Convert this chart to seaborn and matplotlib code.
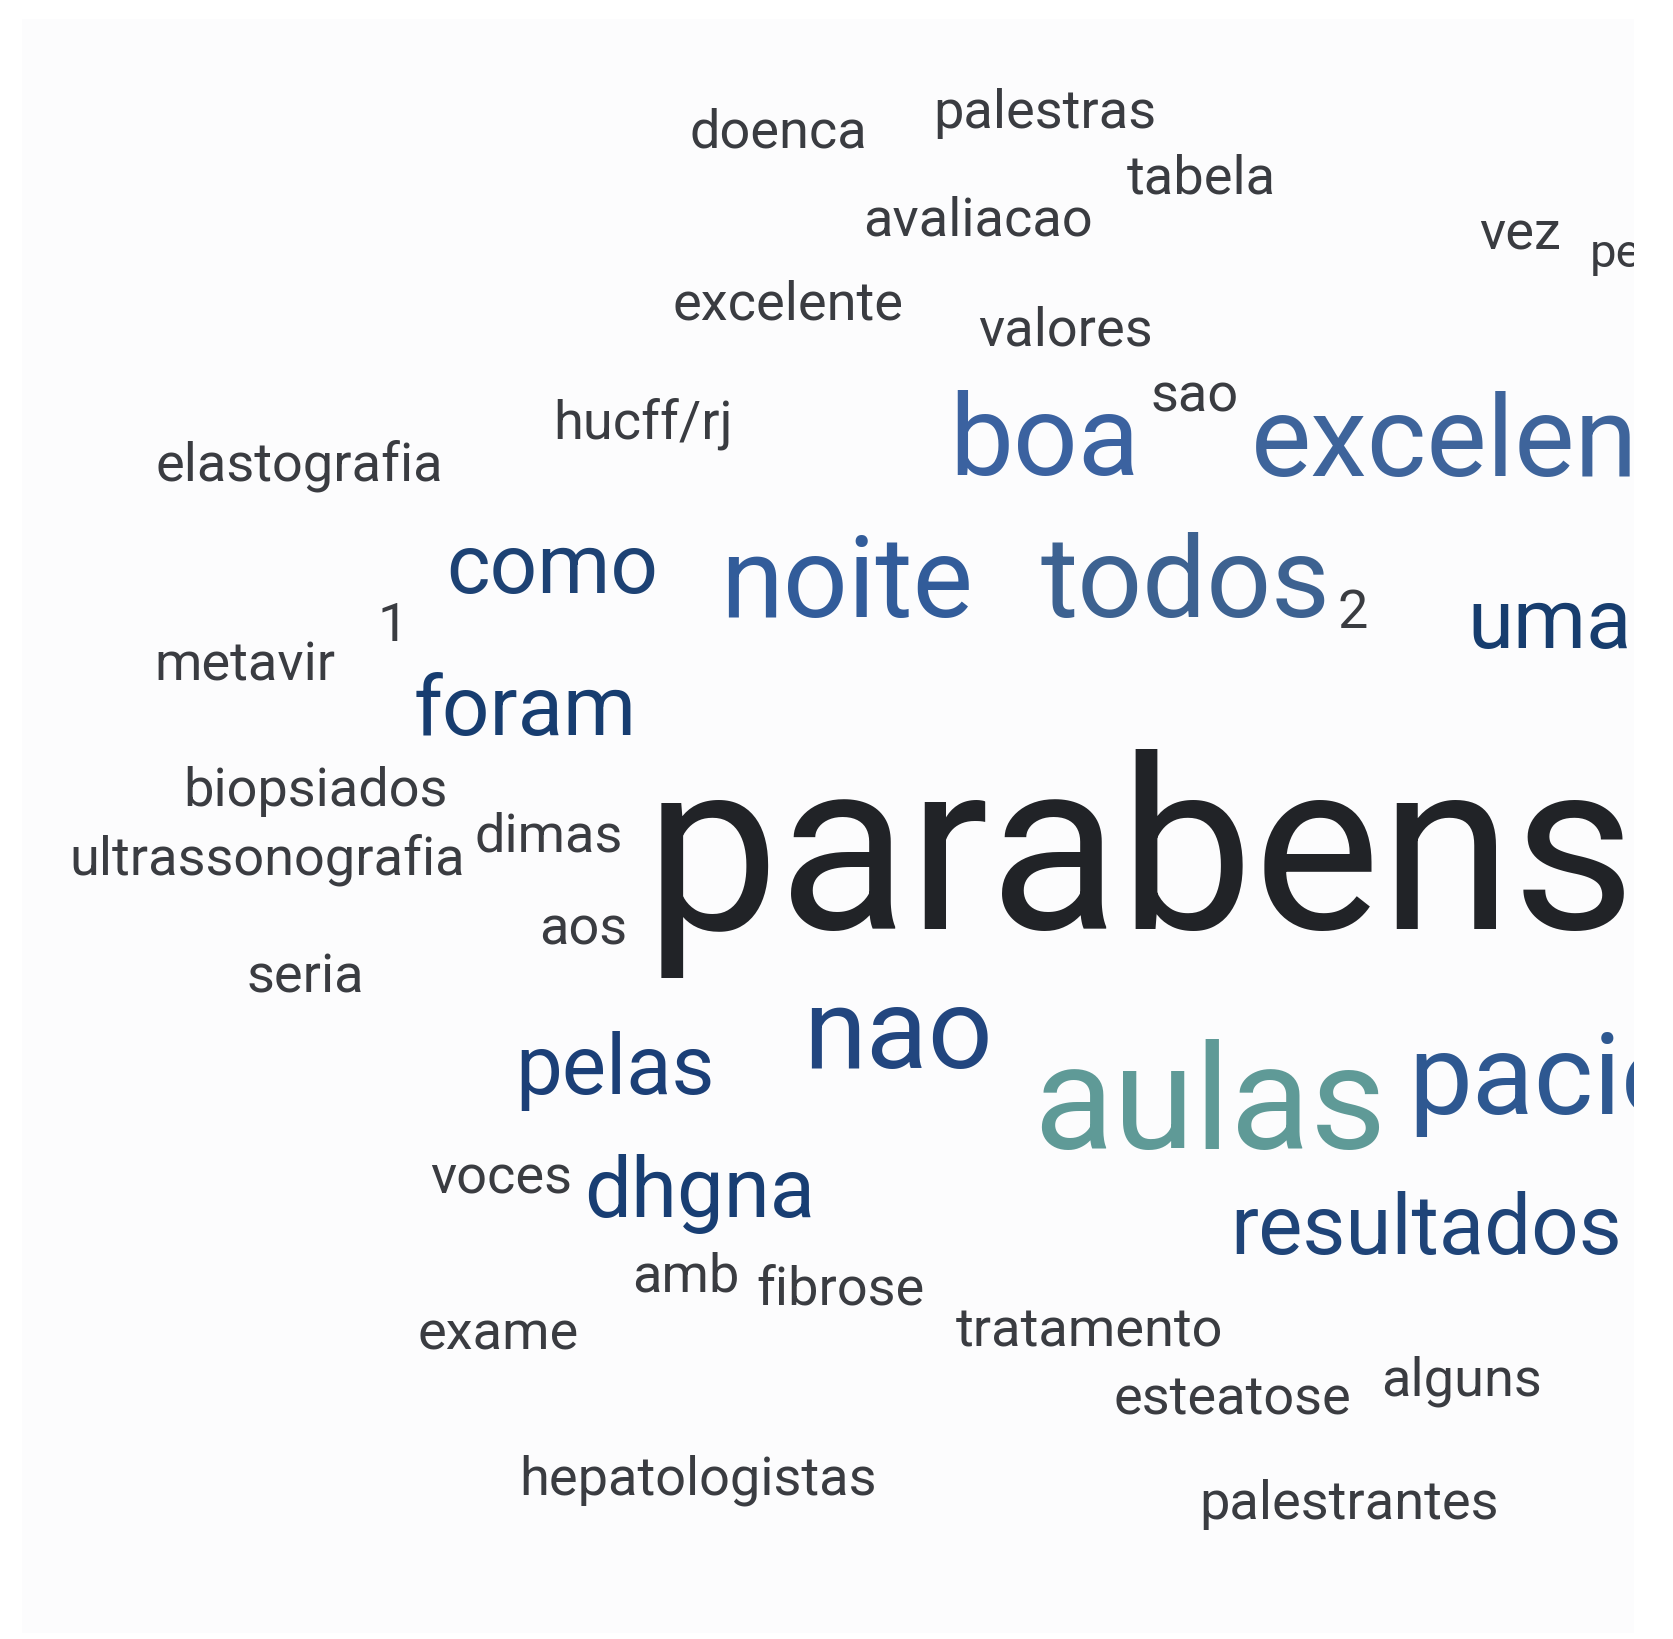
import matplotlib
matplotlib.use("Agg")
import matplotlib.pyplot as plt
import seaborn as sns

# word cloud data: words and how often they appear
words = ["parabens", "aulas", "boa", "excelentes", "noite", "todos", "nao", "pacientes",
         "como", "uma", "foram", "pelas", "dhgna", "resultados",
         "doenca", "palestras", "tabela", "avaliacao", "vez", "excelente", "valores",
         "sao", "hucff/rj", "elastografia", "2", "1", "metavir", "biopsiados", "dimas",
         "ultrassonografia", "aos", "seria", "voces", "amb", "fibrose", "exame",
         "tratamento", "esteatose", "alguns", "hepatologistas", "palestrantes", "pelo"]
counts = [9, 5, 4, 4, 4, 4, 4, 4,
          3, 3, 3, 3, 3, 3,
          2, 2, 2, 2, 2, 2, 2,
          2, 2, 2, 2, 2, 2, 2, 2,
          2, 2, 2, 2, 2, 2, 2,
          2, 2, 2, 2, 2, 1]

# --- styling / layout (pixel coords of the 1674x1640 canvas, left + baseline) ---
size_for = {1: 34, 2: 39, 3: 60, 4: 82, 5: 106, 9: 172}
layout = {
    "parabens": (645, 929), "aulas": (1033, 1149), "boa": (949, 475),
    "excelentes": (1251, 476), "noite": (720, 617), "todos": (1041, 617),
    "nao": (803, 1068), "pacientes": (1408, 1114),
    "como": (446, 593), "uma": (1467, 648), "foram": (414, 735),
    "pelas": (515, 1094), "dhgna": (584, 1217), "resultados": (1230, 1254),
    "doenca": (690, 147), "palestras": (933, 128), "tabela": (1127, 194),
    "avaliacao": (863, 235), "vez": (1479, 250), "excelente": (673, 320),
    "valores": (978, 345), "sao": (1151, 411), "hucff/rj": (553, 438),
    "elastografia": (156, 480), "2": (1338, 628), "1": (378, 641),
    "metavir": (154, 681), "biopsiados": (183, 806), "dimas": (475, 852),
    "ultrassonografia": (69, 875), "aos": (539, 945), "seria": (247, 993),
    "voces": (430, 1194), "amb": (632, 1292), "fibrose": (756, 1305),
    "exame": (418, 1350), "tratamento": (956, 1347), "esteatose": (1114, 1415),
    "alguns": (1381, 1396), "hepatologistas": (519, 1495),
    "palestrantes": (1199, 1519), "pelo": (1590, 267),
}
colors = {
    "parabens": "#212327", "aulas": "#5f9a97", "boa": "#3b62a0",
    "excelentes": "#3e649b", "noite": "#325c9a", "todos": "#3d6291",
    "nao": "#22467f", "pacientes": "#2e5891", "como": "#1d4274",
    "uma": "#173d6e", "foram": "#173d70", "pelas": "#1b3f77",
    "dhgna": "#183e73", "resultados": "#1f4478",
}
gray = "#3a3c41"

sns.set_theme(style="white")
plt.rcParams["font.family"] = ["Roboto", "DejaVu Sans"]

W, H = 1674, 1640
fig = plt.figure(figsize=(W / 100, H / 100), dpi=100, facecolor="white")

# panel that clips the words at its border
x0, x1, y0, y1 = 22, 1634, 20, 1634
ax = fig.add_axes([x0 / W, (H - y1) / H, (x1 - x0) / W, (y1 - y0) / H])
ax.set_facecolor("#fcfcfd")
ax.set_xlim(x0, x1)
ax.set_ylim(y1, y0)
ax.set_xticks([])
ax.set_yticks([])
sns.despine(ax=ax, left=True, bottom=True)

for word, n in zip(words, counts):
    x, y = layout[word]
    ax.text(x, y, word, fontsize=size_for[n], color=colors.get(word, gray),
            ha="left", va="baseline", clip_on=True)

fig.savefig("out.png", dpi=100, facecolor="white")
